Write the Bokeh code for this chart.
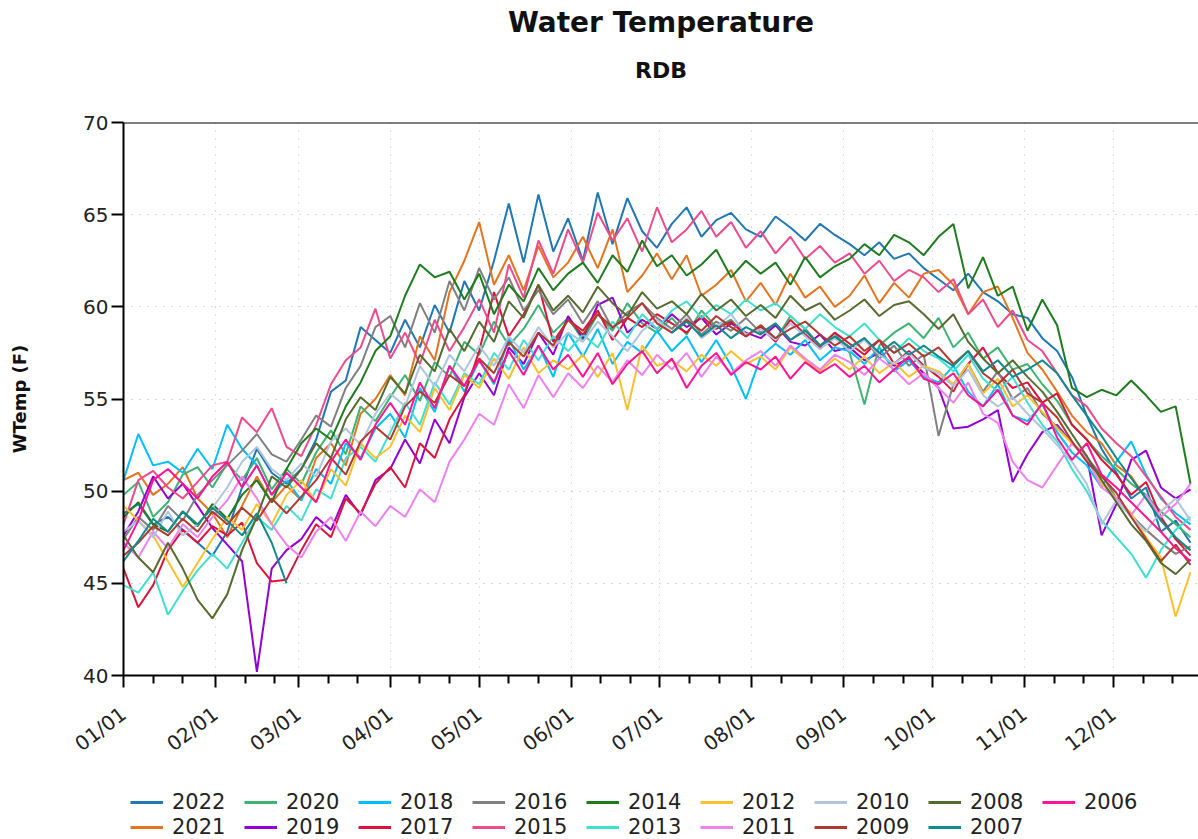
import numpy as np
from bokeh.plotting import figure
from bokeh.layouts import column
from bokeh.models import FixedTicker, Legend, LegendItem, Title, Span, Range1d
from bokeh.embed import file_html
from bokeh.resources import INLINE

nan = float("nan")

# day of year (0 = Jan 1), sampled every 5 days
days = list(range(0, 361, 5))

y2022 = [48.8, 49.3, 48.2, 48.6, 47.9, 47.2, 46.5,
         47.8, 50.2, 52.3, 51.0, 50.4,
         51.2, 52.8, 55.4, 56.0, 58.9, 58.2,
         57.5, 59.3, 57.8, 60.1, 58.6, 61.4,
         59.8, 62.5, 65.6, 62.4, 66.1, 63.0, 64.8,
         62.5, 66.2, 63.4, 65.9, 64.1, 63.2,
         64.5, 65.4, 63.8, 64.7, 65.1, 64.2,
         63.8, 64.9, 64.3, 63.6, 64.5, 63.9,
         63.4, 62.8, 63.5, 62.6, 62.9, 62.1,
         61.5, 60.9, 61.8, 60.8, 60.3, 59.6,
         59.4, 58.3, 57.6, 56.2, 54.1, 52.3,
         51.0, 49.6, 50.2, 47.8, 48.4, 47.2]
y2021 = [50.6, 51.0, 49.8, 50.4, 51.3, 49.6, 48.8,
         47.5, 49.2, 50.8, 49.4, 50.3,
         49.5, 51.8, 52.6, 51.4, 54.2, 55.0,
         56.3, 55.2, 58.4, 57.1, 60.8, 62.5,
         64.6, 61.2, 62.8, 60.9, 63.3, 61.6, 62.4,
         63.8, 62.1, 64.2, 60.8, 61.7, 62.9,
         61.5, 62.8, 60.6, 61.2, 62.0, 60.3,
         61.3, 60.1, 61.8, 60.5, 61.1, 60.0,
         60.6, 61.7, 60.2, 61.3, 60.5, 61.8,
         62.0, 61.2, 59.6, 60.8, 61.1, 59.4,
         57.5, 56.6, 55.4, 54.1, 53.2, 52.6,
         51.4, 50.8, 49.6, 48.5, 47.4, 46.8]
y2020 = [49.8, 50.5, 48.6, 49.4, 50.9, 51.3, 50.2,
         51.5, 50.6, 51.8, 50.1, 51.2,
         50.4, 52.1, 53.3, 52.0, 54.6, 53.8,
         55.1, 56.3, 54.9, 57.0, 56.2, 58.1,
         57.4, 59.2, 57.9, 58.8, 60.1, 58.6, 59.4,
         58.2, 59.6, 58.7, 60.2, 59.1, 58.6,
         59.4, 58.5, 59.8, 58.9, 59.3, 58.4,
         59.0, 58.2, 59.5, 58.8, 57.9, 58.6,
         57.5, 54.7, 57.9, 58.6, 59.1, 58.3,
         59.4, 57.8, 58.6, 57.2, 57.8, 56.6,
         56.9, 55.8, 54.9, 53.6, 52.8, 51.9,
         51.2, 50.4, 49.8, 48.9, 48.2, 47.5]
y2019 = [47.6, 48.9, 50.8, 49.6, 50.4, 49.2, 48.0,
         47.1, 46.2, 40.2, 45.8, 46.8,
         47.4, 48.6, 47.9, 49.8, 48.7, 50.6,
         51.2, 52.8, 51.5, 53.9, 52.6, 55.1,
         56.4, 55.2, 57.8, 56.9, 58.6, 57.4, 59.5,
         58.3, 60.1, 60.5, 58.6, 59.3, 58.8,
         59.6, 58.9, 59.4, 58.5, 59.1, 58.6,
         58.3, 59.0, 58.1, 57.9, 58.5, 57.6,
         57.8, 57.1, 57.5, 56.8, 57.2, 56.4,
         55.6, 53.4, 53.5, 53.9, 54.4, 50.5,
         52.0, 53.2, 53.6, 52.6, 51.9, 47.6,
         49.3, 51.7, 52.2, 50.2, 49.6, 50.1]
y2018 = [50.6, 53.1, 51.4, 51.6, 51.0, 52.3, 51.2,
         53.6, 52.3, 51.4, 49.8, 50.6,
         49.5, 51.2, 50.4, 52.6, 51.8, 53.4,
         54.2, 52.9, 55.6, 54.3, 56.8, 55.4,
         57.1, 55.8, 58.3, 56.6, 57.9, 56.2, 58.6,
         57.3, 58.8, 56.9, 58.1, 57.5, 58.7,
         57.6, 58.4, 57.0, 58.2, 56.8, 55.0,
         57.3, 58.0, 57.4, 58.2, 57.1, 57.8,
         57.6, 56.9, 57.8, 56.5, 57.1, 56.2,
         55.9, 56.8, 55.4, 54.6, 55.8, 54.1,
         53.8, 54.7, 53.2, 52.1, 51.4, 50.2,
         51.6, 52.7, 50.9, 49.6, 48.8, 48.2]
y2017 = [45.8, 43.7, 44.9, 46.8, 47.9, 47.2, 48.1,
         47.6, 48.3, 46.1, 45.1, 45.2,
         46.8, 48.2, 47.5, 49.6, 48.8, 50.4,
         51.3, 50.2, 52.6, 51.8, 53.9, 55.2,
         57.6, 60.8, 58.4, 59.6, 61.2, 58.1, 59.3,
         58.7, 59.8, 58.2, 59.4, 58.9, 59.6,
         59.1, 58.6, 59.5, 58.8, 59.2, 58.4,
         58.9, 58.1, 59.3, 58.5, 57.8, 58.6,
         58.0, 57.4, 58.2, 56.9, 57.6, 56.8,
         56.2, 55.4, 56.9, 57.8, 56.4, 55.6,
         55.9, 54.8, 55.3, 53.6, 52.8, 51.7,
         50.9, 49.8, 50.5, 48.6, 47.4, 46.5]
y2016 = [47.4, 48.6, 47.9, 49.2, 48.4, 49.8, 50.6,
         51.4, 52.2, 53.1, 52.0, 51.6,
         52.8, 54.1, 53.5, 55.6, 56.8, 58.9,
         59.5, 57.8, 60.2, 58.6, 61.4, 59.8,
         62.1, 60.4, 61.6, 59.8, 60.9, 59.6, 60.4,
         59.1, 60.3, 58.8, 59.7, 60.2, 59.4,
         58.8, 59.6, 58.5, 59.2, 58.7, 59.4,
         58.6, 59.1, 58.2, 58.8, 57.9, 58.4,
         57.8, 58.3, 57.2, 57.9, 56.8, 57.4,
         53.0, 55.8, 56.9, 55.4, 56.5, 55.0,
         55.6, 54.2, 53.5, 52.6, 51.8, 50.9,
         49.6, 48.7, 47.9, 47.2, 46.6, 47.0]
y2015 = [48.2, 50.6, 51.1, 50.2, 49.6, 50.5, 51.4,
         51.6, 54.0, 53.2, 54.5, 52.4,
         51.9, 53.6, 55.8, 57.1, 57.8, 59.9,
         57.2, 58.6, 56.9, 59.3, 57.6, 58.9,
         60.4, 58.6, 62.3, 60.5, 63.6, 61.8, 64.2,
         62.4, 65.1, 63.6, 64.8, 63.0, 65.4,
         63.5, 64.2, 65.2, 63.8, 64.6, 63.2,
         64.1, 62.9, 63.8, 62.6, 63.3, 62.4,
         62.9, 61.8, 62.5, 61.4, 62.0, 61.6,
         60.8, 61.5, 59.6, 60.4, 58.9, 59.8,
         58.2, 57.6, 56.4, 55.2, 54.6, 53.4,
         52.6, 51.9, 50.8, 49.7, 48.6, 47.9]
y2014 = [48.6, 49.4, 48.2, 47.8, 48.9, 48.1, 49.3,
         48.5, 49.8, 50.6, 49.4, 51.2,
         52.6, 53.4, 52.8, 54.6, 55.9, 57.6,
         58.4, 60.6, 62.3, 61.6, 61.9, 60.4,
         61.8, 59.6, 61.2, 60.3, 62.1, 60.9, 61.8,
         62.4, 61.3, 62.8, 61.9, 63.6, 62.2,
         62.8, 61.7, 62.3, 63.1, 61.6, 62.5,
         61.8, 62.4, 61.2, 62.7, 61.6, 62.2,
         62.6, 63.4, 62.8, 63.9, 63.5, 62.8,
         63.8, 64.5, 61.0, 62.7, 60.6, 61.1,
         58.7, 60.4, 59.0, 55.6, 55.1, 55.5,
         55.2, 56.0, 55.2, 54.3, 54.6, 50.4]
y2013 = [44.9, 44.5, 45.6, 43.3, 44.6, 45.7, 46.6,
         45.8, 47.2, 48.6, 47.9, 49.2,
         48.4, 50.1, 49.6, 51.8, 52.4, 51.6,
         53.2, 54.8, 53.6, 55.9, 54.7, 56.4,
         55.8, 57.5, 56.6, 58.2, 57.1, 58.4, 57.6,
         58.5, 57.8, 59.2, 58.3, 59.6, 58.8,
         59.8, 60.3, 59.4, 60.1, 59.6, 60.4,
         59.8, 60.2, 59.5, 58.8, 59.6, 58.9,
         58.4, 59.1, 58.2, 57.5, 58.3, 57.6,
         57.2, 56.5, 57.4, 56.1, 55.4, 56.2,
         54.8, 53.6, 52.7, 51.2, 50.0, 48.4,
         47.5, 46.6, 45.3, 46.8, 47.9, 48.6]
y2012 = [49.2, 48.4, 47.6, 46.2, 44.8, 46.1, 47.4,
         48.6, 47.9, 49.3, 48.2, 49.8,
         50.6, 49.4, 51.2, 50.3, 52.6, 51.8,
         52.4, 54.1, 53.2, 55.6, 54.4, 56.3,
         55.6, 57.2, 56.1, 57.8, 56.4, 57.1, 56.6,
         57.4, 56.2, 57.5, 54.4, 57.9, 56.8,
         57.1, 56.5, 57.4, 56.8, 57.6, 56.9,
         57.3, 56.6, 57.8, 57.1, 56.5, 57.2,
         56.6, 57.3, 56.4, 57.0, 56.2, 56.8,
         56.5, 55.8, 56.9, 55.3, 56.1, 54.6,
         55.2, 54.3, 53.4, 52.6, 51.8, 50.4,
         49.6, 48.8, 47.5, 46.4, 43.2, 45.6]
y2011 = [47.2, 46.4, 47.8, 46.9, 48.2, 47.5, 48.6,
         49.5, 50.8, 49.6, 48.2, 47.1,
         46.4, 47.8, 48.6, 47.3, 48.9, 48.1,
         49.2, 48.6, 50.1, 49.4, 51.6, 52.8,
         54.2, 53.6, 55.8, 54.5, 56.3, 55.1, 56.4,
         55.6, 56.8, 55.9, 57.1, 56.3, 57.4,
         56.6, 57.5, 56.2, 57.3, 56.4, 57.1,
         57.6, 56.8, 57.9, 57.2, 56.6, 57.4,
         57.0, 56.3, 57.2, 56.6, 55.8, 56.4,
         55.6, 54.8, 55.9, 54.2, 53.7, 51.6,
         50.6, 50.2, 51.4, 52.6, 51.8, 50.2,
         49.6, 48.7, 49.8, 48.6, 49.3, 50.4]
y2010 = [47.8, 48.4, 47.5, 48.9, 47.6, 48.2, 49.1,
         50.2, 51.6, 52.4, 51.2, 50.6,
         51.5, 50.8, 52.7, 53.4, 52.5, 54.2,
         55.3, 54.6, 56.8, 55.7, 57.4, 56.5,
         57.9, 56.8, 58.4, 57.5, 58.9, 57.8, 58.6,
         58.1, 59.2, 58.4, 57.6, 58.7, 59.3,
         58.6, 59.4, 58.3, 58.9, 59.6, 58.5,
         58.8, 58.2, 59.1, 58.4, 57.7, 58.3,
         57.6, 58.2, 57.4, 56.9, 57.5, 56.7,
         56.4, 55.7, 56.6, 55.2, 54.6, 55.1,
         54.2, 53.4, 52.5, 51.6, 50.4, 48.2,
         49.5, 48.6, 47.8, 48.9, 49.6, 48.4]
y2009 = [46.5, 47.2, 48.1, 47.6, 48.5, 47.8, 48.9,
         48.2, 49.1, 48.4, 49.6, 48.8,
         49.7, 50.6, 51.8, 50.9, 52.7, 53.5,
         52.8, 54.6, 55.4, 54.8, 56.3, 55.7,
         57.2, 56.4, 58.1, 57.3, 58.6, 57.9, 59.3,
         58.5, 59.6, 58.9, 59.4, 60.2, 59.1,
         58.6, 59.3, 58.7, 59.5, 58.9, 58.4,
         59.0, 58.3, 58.8, 59.2, 58.5, 57.9,
         58.4, 57.6, 58.2, 57.5, 58.0, 57.3,
         57.8, 56.9, 57.6, 56.4, 55.8, 56.6,
         55.3, 54.8, 54.0, 52.7, 51.6, 50.8,
         49.9, 48.6, 47.4, 46.2, 47.1, 46.0]
y2008 = [47.6, 46.4, 45.6, 47.2, 45.8, 44.1, 43.1,
         44.4, 46.8, 48.6, 50.8, 50.2,
         51.2, 52.6, 51.8, 53.9, 55.1, 54.4,
         56.2, 55.3, 57.4, 56.5, 58.8, 57.6,
         59.2, 58.1, 60.3, 59.4, 61.2, 59.8, 60.6,
         59.7, 61.1, 60.2, 59.5, 60.8, 59.9,
         60.3, 59.6, 60.7, 59.8, 60.4, 59.5,
         60.1, 59.4, 60.6, 59.8, 60.2, 59.3,
         59.8, 60.4, 59.5, 60.1, 60.3, 59.6,
         58.8, 59.6, 58.1, 57.2, 56.4, 57.1,
         56.2, 55.4, 54.3, 53.1, 51.9, 50.6,
         49.4, 48.2, 47.3, 46.1, 45.5, 46.3]
y2007 = [46.2, 47.3, 48.5, 47.8, 48.9, 48.2, 49.1,
         48.4, 47.6, 48.8, 47.2, 45.0,
         nan, nan, nan, nan, nan, nan,
         nan, nan, nan, nan, nan, nan,
         nan, nan, nan, nan, nan, nan, nan,
         nan, nan, nan, nan, nan, nan,
         58.6, 59.2, 58.4, 59.0, 58.3, 58.9,
         58.5, 59.1, 58.2, 58.7, 57.9, 58.4,
         57.8, 58.3, 57.5, 58.1, 57.4, 57.9,
         57.3, 56.8, 57.6, 56.5, 57.1, 56.2,
         56.6, 57.1, 56.4, 55.2, 54.1, 53.0,
         51.8, 50.7, 49.6, 48.4, 47.5, 46.8]
y2006 = [46.8, 48.4, 50.6, 51.2, 50.4, 49.6, 50.8,
         51.6, 50.2, 51.4, 49.8, 51.0,
         50.2, 49.4, 51.6, 52.8, 51.7, 53.6,
         54.8, 53.6, 55.9, 54.5, 56.8, 55.7,
         57.1, 55.9, 57.6, 56.3, 57.9, 56.6, 57.4,
         56.2, 57.5, 55.8, 56.9, 57.6, 56.4,
         57.2, 55.6, 56.8, 57.5, 56.3, 57.0,
         56.6, 57.3, 56.1, 57.0, 56.4, 56.9,
         56.2, 56.8, 55.9, 56.6, 57.3, 56.1,
         55.8, 56.4, 55.2, 54.6, 55.5, 54.1,
         53.6, 54.8, 52.9, 51.7, 52.6, 50.9,
         50.2, 49.4, 48.6, 47.8, 46.9, 46.2]

years = ["2022", "2021", "2020", "2019", "2018", "2017", "2016", "2015", "2014",
         "2013", "2012", "2011", "2010", "2009", "2008", "2007", "2006"]
series = [y2022, y2021, y2020, y2019, y2018, y2017, y2016, y2015, y2014,
          y2013, y2012, y2011, y2010, y2009, y2008, y2007, y2006]
colors = ["#1f77b4", "#e6741e", "#3cb371", "#9400d3", "#00bfff", "#dc143c", "#808080",
          "#ee4a8c", "#1e7b1e", "#40e0d0", "#fbc02d", "#ee82ee", "#b0c4de", "#b03a30",
          "#556b2f", "#108b8b", "#ff1493"]

month_ticks = [0, 31, 59, 90, 120, 151, 181, 212, 243, 273, 304, 334]
month_labels = ["01/01", "02/01", "03/01", "04/01", "05/01", "06/01",
                "07/01", "08/01", "09/01", "10/01", "11/01", "12/01"]
minor_ticks = [10, 20, 41, 51, 69, 79, 100, 110, 130, 140, 161, 171, 191, 201,
               222, 232, 253, 263, 283, 293, 314, 324, 344, 354]
y_ticks = [40, 45, 50, 55, 60, 65, 70]

tick_font = "DejaVu Sans"

# ---------------- main chart ----------------
p = figure(width=1198, height=790, x_range=Range1d(0, 362.7), y_range=Range1d(40, 70),
           output_backend="svg", toolbar_location=None, title=None,
           min_border_left=123, min_border_right=0, min_border_top=10, min_border_bottom=115)
p.outline_line_color = None
p.background_fill_color = "white"
p.border_fill_color = "white"

p.xaxis.ticker = FixedTicker(ticks=month_ticks, minor_ticks=minor_ticks)
p.xaxis.major_label_overrides = {t: l for t, l in zip(month_ticks, month_labels)}
p.xaxis.major_label_orientation = 0.65
p.xaxis.major_label_standoff = 24
p.yaxis.ticker = FixedTicker(ticks=y_ticks)
p.yaxis.minor_tick_line_color = None
p.yaxis.axis_label = "WTemp (F)"
p.yaxis.axis_label_text_font = tick_font
p.yaxis.axis_label_text_font_size = "18px"
p.yaxis.axis_label_text_font_style = "bold"
p.yaxis.axis_label_text_color = "#111111"
p.yaxis.axis_label_standoff = 50
p.yaxis.major_label_standoff = 3
for ax in (p.xaxis, p.yaxis):
    ax.axis_line_width = 2
    ax.axis_line_color = "black"
    ax.major_tick_line_width = 2
    ax.major_tick_line_color = "black"
    ax.major_tick_out = 12
    ax.major_tick_in = 0
    ax.major_label_text_font = tick_font
    ax.major_label_text_font_size = "20px"
    ax.major_label_text_color = "#222222"
p.xaxis.minor_tick_line_width = 2
p.xaxis.minor_tick_line_color = "black"
p.xaxis.minor_tick_out = 8
p.xaxis.minor_tick_in = 0

for g in (p.xgrid, p.ygrid):
    g.grid_line_color = "#b8b8b8"
    g.grid_line_dash = "1 7"
    g.grid_line_width = 1

p.add_layout(Span(location=70, dimension="width", line_color="black", line_width=2))

for yr, ys, c in zip(years, series, colors):
    p.line(days, np.array(ys, dtype=float), line_color=c, line_width=2)

# titles: spacer nearest the frame, then subtitle, then main title
p.add_layout(Title(text=" ", text_font_size="1px", standoff=23), "above")
p.add_layout(Title(text="RDB", align="center", text_font="DejaVu Sans",
                   text_font_size="22px", text_font_style="bold", text_color="#111111",
                   standoff=28), "above")
p.add_layout(Title(text="Water Temperature", align="center", text_font="DejaVu Sans",
                   text_font_size="28px", text_font_style="bold", text_color="#111111",
                   standoff=6), "above")

# ---------------- legend strip ----------------
q = figure(width=1198, height=49, x_range=Range1d(0, 1), y_range=Range1d(0, 1),
           output_backend="svg", toolbar_location=None, title=None,
           x_axis_type=None, y_axis_type=None, min_border=0)
q.outline_line_color = None
q.xgrid.visible = False
q.ygrid.visible = False

items = []
for yr, c in zip(years, colors):
    # placeholder renderer (draws nothing) that only supplies the legend swatch
    r = q.line(x=[nan], y=[nan], line_color=c, line_width=3)
    items.append(LegendItem(label=yr, renderers=[r]))

# legend laid out row by row: first row holds every other year, second row the rest
legend_items = items[0::2] + items[1::2]
legend = Legend(items=legend_items, orientation="horizontal", ncols=9,
                glyph_width=33, glyph_height=20, label_standoff=9, label_width=71,
                label_height=20, spacing=1, padding=0, margin=0,
                label_text_font=tick_font, label_text_font_size="21px",
                label_text_color="#222222", border_line_color=None,
                background_fill_alpha=0, location=(7, 0))
q.add_layout(legend, "center")

layout = column(p, q, spacing=0)
open("out.html", "w").write(file_html(layout, INLINE))
